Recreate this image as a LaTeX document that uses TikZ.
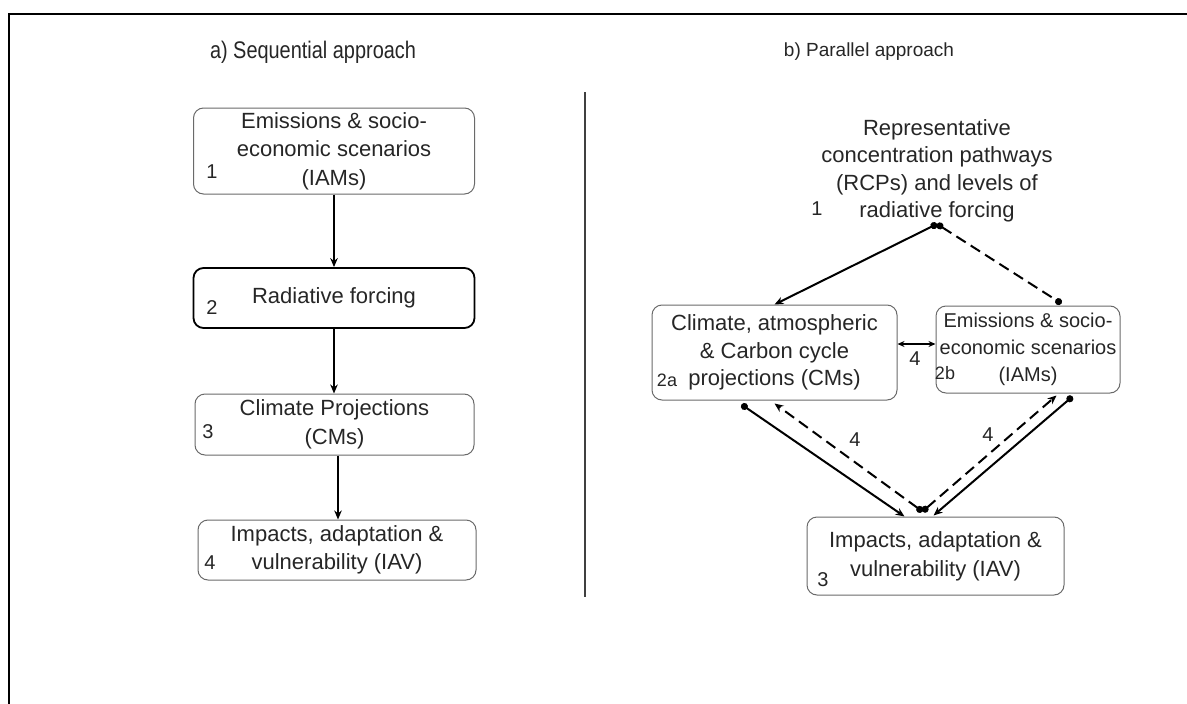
\documentclass[tikz,border=0pt]{standalone}
\usepackage{fontspec}
\setmainfont{Liberation Sans}
\newfontfamily\titlefont{Liberation Sans}[FakeStretch=0.83]
\usetikzlibrary{arrows.meta,calc}
\definecolor{txt}{HTML}{262626}
\definecolor{boxgray}{HTML}{6a6a6a}
\begin{document}
\begin{tikzpicture}[x=1pt,y=-1pt,
  box/.style={draw=boxgray, line width=1pt, rounded corners=10pt, align=center,
    font=\fontsize{22}{28.5}\selectfont, text=txt, inner sep=0pt},
  num/.style={font=\fontsize{20}{24}\selectfont, text=txt, inner sep=0pt},
  smallnum/.style={font=\fontsize{18}{22}\selectfont, text=txt, inner sep=0pt},
  ttl/.style={text=txt, inner sep=0pt},
  conn/.style={line width=2pt, draw=black},
  arr/.style={conn, -{Stealth[length=9pt,width=7.5pt]}},
  dotarr/.style={conn, {Circle[length=7pt]}-{Stealth[length=9pt,width=7.5pt]}},
  dotdot/.style={conn, {Circle[length=7pt]}-{Circle[length=7pt]}},
  dsh/.style={dash pattern=on 11pt off 6pt}]
\useasboundingbox (0,0) rectangle (1187,704);
% frame
\draw[line width=2pt] (9,720) -- (9,14) -- (1200,14);
% titles
\node[ttl, font=\titlefont\fontsize{24}{28}\selectfont] (ta) at (313,52) {a) Sequential approach};
\node[ttl, font=\fontsize{19}{23}\selectfont] (tb) at (869,52) {b) Parallel approach};
% divider
\draw[line width=1.2pt, draw=black!75] (585,92) -- (585,597);
% ---- left: sequential ----
\node[box, minimum width=281pt, minimum height=86pt] (b1) at (334,151) {Emissions \& socio-\\economic scenarios\\(IAMs)};
\node[box, draw=black, line width=1.8pt, minimum width=281pt, minimum height=60pt] (b2) at (334,298) {Radiative forcing};
\node[box, minimum width=279pt, minimum height=61pt] (b3) at (334.5,424.5) {Climate Projections\\(CMs)};
\node[box, minimum width=278pt, minimum height=60pt] (b4) at (337,550) {Impacts, adaptation \&\\vulnerability (IAV)};
\node[num] (n1) at (212,172) {1};
\node[num] (n2) at (212,308) {2};
\node[num] (n3) at (208,432) {3};
\node[num] (n4) at (210,563) {4};
\draw[arr] (b1.south) -- (b2.north);
\draw[arr] (b2.south) -- (b2.south |- b3.north);
\coordinate (b3s) at ($(b3.south)+(3.5,0)$);
\draw[arr] (b3s) -- (b3s |- b4.north);
% ---- right: parallel ----
\node[ttl, align=center, font=\fontsize{22}{27.5}\selectfont] (rcp) at (937,171) {Representative\\concentration pathways\\(RCPs) and levels of\\radiative forcing};
\node[num] (r1) at (817,209) {1};
\coordinate (r) at (937,224);
\node[box, minimum width=245pt, minimum height=95pt, font=\fontsize{22}{27.5}\selectfont] (cm) at (774.5,352.5) {Climate, atmospheric\\\& Carbon cycle\\projections (CMs)};
\node[box, minimum width=184pt, minimum height=87pt, font=\fontsize{20}{27}\selectfont] (iam) at (1028,349.5) {Emissions \& socio-\\economic scenarios\\(IAMs)};
\node[box, minimum width=257pt, minimum height=78pt, font=\fontsize{22}{29}\selectfont] (imp) at (935.5,556) {Impacts, adaptation \&\\vulnerability (IAV)};
\node[smallnum] (l2a) at (667,380) {2a};
\node[smallnum] (l2b) at (945,373) {2b};
\node[num] (l3) at (823,580) {3};
\node[num] (l4m) at (915,359) {4};
\node[num] (l4l) at (855,440) {4};
\node[num] (l4r) at (988,435) {4};
% connectors
\draw[dotarr] (r) -- ($(cm.north west)+(123,0)$);
\draw[dotdot, dsh] (r) -- ($(iam.north west)+(126,-2)$);
\coordinate (cme) at ($(cm.east)+(0,-8.5)$);
\draw[conn, line width=1.6pt, {Stealth[length=7pt,width=6pt]}-{Stealth[length=7pt,width=6pt]}] (cme) -- (cme -| iam.west);
\coordinate (cmA) at ($(cm.south west)+(90,4)$);
\coordinate (cmB) at ($(cm.south west)+(123,3)$);
\coordinate (impA) at ($(imp.north west)+(98,0)$);
\coordinate (impB) at ($(imp.north west)+(116,-5)$);
\coordinate (impC) at ($(imp.north west)+(127,-1)$);
\coordinate (iamA) at ($(iam.south west)+(121,2)$);
\coordinate (iamB) at ($(iam.south west)+(137,3)$);
\draw[dotarr] (cmA) -- (impA);
\draw[dotarr, dsh] (impB) -- (cmB);
\draw[dotarr, dsh] (impB) -- (iamA);
\draw[dotarr] (iamB) -- (impC);
\end{tikzpicture}
\end{document}
